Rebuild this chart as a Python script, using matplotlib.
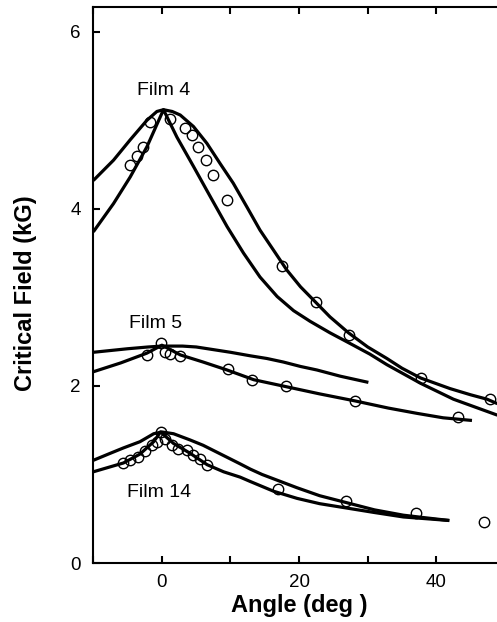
import numpy as np
import matplotlib
matplotlib.use('Agg')
import matplotlib.pyplot as plt

plt.rcParams['font.family'] = ['Liberation Sans', 'DejaVu Sans']

# Film 4 - rounded curve and cusp curve
f4_round_x = [-10, -7.05, -4.62, -2.19, -0.73, 0.23, 1.5, 2.67, 4.6, 6.56, 8.5, 10.4, 12.4, 14.3, 16.3,
              18.2, 20.2, 22.1, 24.5, 27.2, 30.0, 32.8, 35.0, 37.7, 42.0, 45.0, 47.4, 48.9]
f4_round_y = [4.32, 4.55, 4.78, 5.00, 5.10, 5.12, 5.10, 5.06, 4.93, 4.74, 4.51, 4.29, 4.02, 3.76, 3.53,
              3.31, 3.12, 2.97, 2.78, 2.60, 2.44, 2.31, 2.20, 2.09, 1.97, 1.90, 1.85, 1.80]
f4_cusp_x = [-10, -7.05, -4.62, -2.19, 0.23, 2.19, 4.6, 7.04, 9.5, 11.9, 14.3, 16.8, 19.2, 21.6, 24.5,
             27.9, 30.3, 32.8, 37.7, 42.5, 48.9]
f4_cusp_y = [3.74, 4.06, 4.36, 4.70, 5.12, 4.81, 4.48, 4.14, 3.80, 3.50, 3.23, 3.01, 2.85, 2.73, 2.60,
             2.46, 2.36, 2.24, 2.03, 1.85, 1.67]
f4_pts_x = [-4.7, -3.7, -2.8, -1.8, 1.2, 3.4, 4.4, 5.3, 6.5, 7.4, 9.5, 17.5, 22.5, 27.3, 37.7, 47.8]
f4_pts_y = [4.50, 4.60, 4.70, 4.98, 5.02, 4.91, 4.83, 4.70, 4.55, 4.38, 4.10, 3.35, 2.95, 2.57, 2.09, 1.85]

# Film 5
f5_round_x = [-10, -5, -2, 0, 3, 5, 7.5, 10, 12.9, 15.3, 17.7, 20.2, 22.6, 26, 30.1]
f5_round_y = [2.38, 2.42, 2.44, 2.45, 2.45, 2.44, 2.41, 2.38, 2.34, 2.31, 2.27, 2.22, 2.18, 2.11, 2.04]
f5_cusp_x = [-10, -6, -2.2, 0, 2.7, 6, 9.5, 13.4, 18.2, 23, 28.2, 33, 37.2, 41, 45.2]
f5_cusp_y = [2.16, 2.26, 2.37, 2.46, 2.35, 2.27, 2.18, 2.07, 1.99, 1.91, 1.83, 1.75, 1.69, 1.64, 1.61]
f5_pts_x = [-2.2, -0.2, 0.5, 1.2, 2.7, 9.7, 13.2, 18.1, 28.2, 43.1]
f5_pts_y = [2.35, 2.49, 2.38, 2.36, 2.34, 2.19, 2.07, 2.00, 1.83, 1.65]

# Film 14
f14_round_x = [-10, -7.5, -5.6, -3.2, -1.2, 0, 1.7, 4.1, 6, 7.8, 9.6, 11.4, 12.9, 14.6, 16.3, 19.7,
               23, 27, 31, 35.2, 38.5, 41.9]
f14_round_y = [1.16, 1.24, 1.30, 1.37, 1.46, 1.48, 1.46, 1.39, 1.33, 1.26, 1.19, 1.12, 1.06, 1.00, 0.95, 0.85,
               0.76, 0.68, 0.60, 0.54, 0.51, 0.48]
f14_cusp_x = [-10, -7.8, -5.6, -3.2, -1.2, -0.2, 1.7, 4.1, 6.6, 9, 11.4, 12.9, 16.3, 19.7, 23, 27, 31,
              35.2, 41.9]
f14_cusp_y = [1.03, 1.08, 1.13, 1.23, 1.37, 1.48, 1.35, 1.24, 1.11, 1.03, 0.97, 0.92, 0.81, 0.73, 0.67, 0.62,
              0.57, 0.52, 0.48]
f14_pts_x = [-5.7, -4.6, -3.5, -2.4, -1.5, -0.7, -0.2, 0.5, 1.5, 2.4, 3.6, 4.6, 5.6, 6.6, 16.9, 26.8, 37.0, 47.0]
f14_pts_y = [1.13, 1.16, 1.20, 1.27, 1.33, 1.37, 1.48, 1.40, 1.33, 1.29, 1.28, 1.22, 1.17, 1.11, 0.84, 0.70, 0.57, 0.46]

fig = plt.figure(figsize=(4.97, 6.22), dpi=100)
ax = fig.add_axes([93.3/497, 59/622, 411.6/497, 556/622])

for x, y in [(f4_round_x, f4_round_y), (f4_cusp_x, f4_cusp_y),
             (f5_round_x, f5_round_y), (f5_cusp_x, f5_cusp_y),
             (f14_round_x, f14_round_y), (f14_cusp_x, f14_cusp_y)]:
    ax.plot(x, y, color='black', lw=2.3, solid_joinstyle='round', solid_capstyle='butt')

for x, y in [(f4_pts_x, f4_pts_y), (f5_pts_x, f5_pts_y), (f14_pts_x, f14_pts_y)]:
    ax.plot(x, y, 'o', ms=7.5, mfc='none', mec='black', mew=1.0)

ax.text(0.3, 5.34, 'Film 4', fontsize=14, ha='center', va='center')
ax.text(-0.9, 2.70, 'Film 5', fontsize=14, ha='center', va='center')
ax.text(-0.4, 0.80, 'Film 14', fontsize=14, ha='center', va='center')

ax.set_xlim(-10, 50)
ax.set_ylim(0, 6.28)
ax.set_xticks([-10, 0, 10, 20, 30, 40])
ax.set_xticklabels(['', '0', '', '20', '', '40'])
ax.set_yticks([0, 2, 4, 6])
ax.tick_params(direction='in', length=5, width=1.5, labelsize=13.5, top=True, pad=8)
ax.tick_params(axis='y', pad=9)
ax.spines['right'].set_visible(False)
for s in ['left', 'bottom', 'top']:
    ax.spines[s].set_linewidth(1.5)

ax.set_xlabel('Angle (deg )', fontsize=17, fontweight='bold', labelpad=2)
fig.text(26/497, 1 - 293/622, 'Critical Field (kG)', fontsize=17, fontweight='bold',
         rotation=90, ha='center', va='center')

fig.savefig('out.png', dpi=100)
